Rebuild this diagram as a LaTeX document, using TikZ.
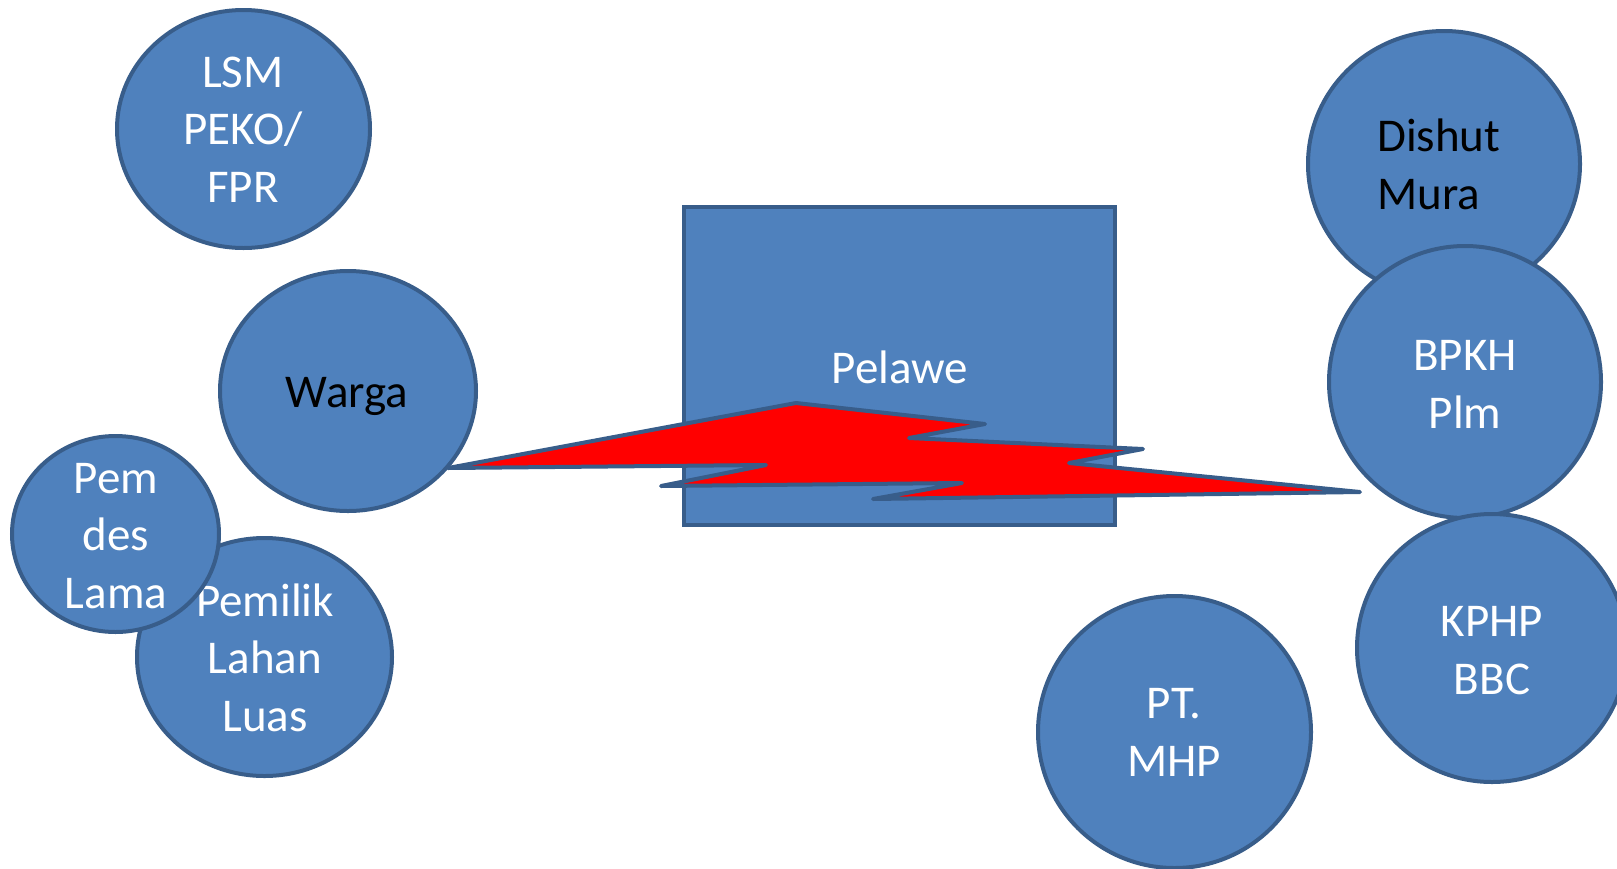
\documentclass[tikz,border=0pt]{standalone}
\usepackage{fontspec}
\setmainfont{Carlito}
\usetikzlibrary{shapes.geometric}
\definecolor{bluefill}{HTML}{4F81BD}
\definecolor{blueline}{HTML}{385D8A}
\begin{document}
\begin{tikzpicture}[x=1pt,y=-1pt,
  blob/.style={ellipse,draw=blueline,fill=bluefill,line width=4pt,inner sep=0pt},
  lbl/.style={font=\fontsize{47}{57.5}\selectfont,text=white,align=center,inner sep=0pt,anchor=base},
  lblk/.style={lbl,text=black}]
\useasboundingbox (0,0) rectangle (1617,868);
% left group
\node[blob,minimum width=253pt,minimum height=238pt] (lsm) at (243.5,129) {};
\node[lbl] (lsmt) at (243,202) {LSM\\PEKO/\\FPR};
\node[blob,minimum width=256pt,minimum height=240pt] (warga) at (348,391) {};
\node[lblk] (wargat) at (347,407) {Warga};
\node[blob,minimum width=255pt,minimum height=238pt] (pemilik) at (264.5,657) {};
\node[lbl] (pemilikt) at (265,731) {Pemilik\\Lahan\\Luas};
\node[blob,minimum width=207pt,minimum height=196pt] (pemdes) at (115.5,534) {};
\node[lbl] (pemdest) at (116,608) {Pem\\des\\Lama};
% centre
\node[draw=blueline,fill=bluefill,line width=4pt,minimum width=431pt,minimum height=318pt,inner sep=0pt] (pelawe) at (899.5,366) {};
\node[lbl] (pelawet) at (900,383) {Pelawe};
% right group
\node[blob,minimum width=272pt,minimum height=266pt] (dishut) at (1444,164) {};
\node[lblk,anchor=base west,align=left] (dishutt) at (1377,209) {Dishut\\Mura};
\node[blob,minimum width=272pt,minimum height=272pt] (bpkh) at (1465,382) {};
\node[lbl] (bpkht) at (1465,428) {BPKH\\Plm};
\node[blob,minimum width=270pt,minimum height=268pt] (kphp) at (1492,648) {};
\node[lbl] (kphpt) at (1492,694) {KPHP\\BBC};
\node[blob,minimum width=273pt,minimum height=272pt] (ptmhp) at (1174.5,732) {};
\node[lbl] (ptmhpt) at (1174,776) {PT.\\MHP};
% conflict bolt
\coordinate (b1) at (448,468);
\coordinate (b2) at (796,403);
\coordinate (b3) at (985,424);
\coordinate (b4) at (909,438);
\coordinate (b5) at (1143,449);
\coordinate (b6) at (1069,463);
\coordinate (b7) at (1360,492);
\coordinate (b8) at (873,499);
\coordinate (b9) at (962,483);
\coordinate (b10) at (661,486);
\coordinate (b11) at (766,465);
\draw[draw=blueline,fill=red,line width=4pt,line join=round,line cap=round]
  (b1) -- (b2) -- (b3) -- (b4) -- (b5) -- (b6) -- (b7) -- (b8) -- (b9) -- (b10) -- (b11) -- cycle;
\end{tikzpicture}
\end{document}
